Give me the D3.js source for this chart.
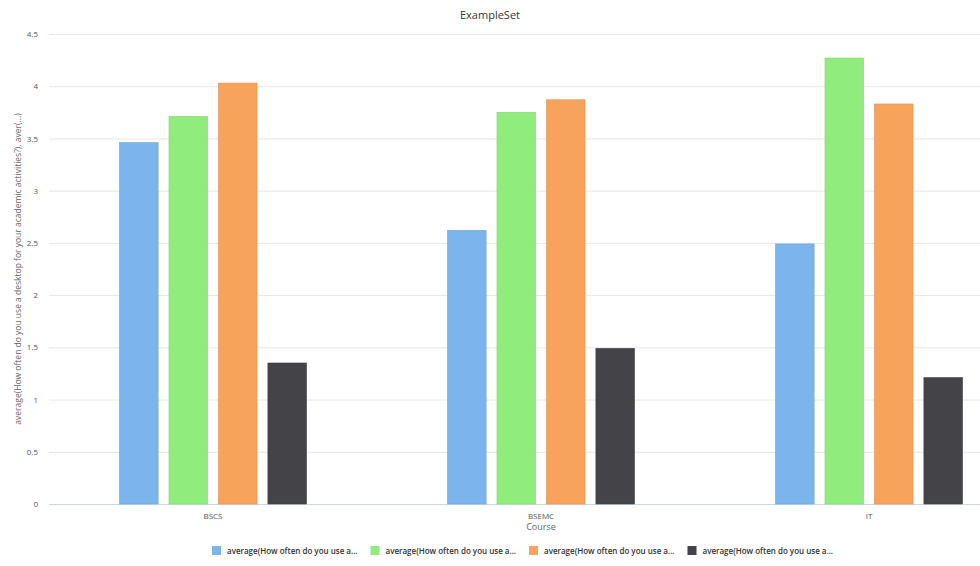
<!DOCTYPE html>
<html>
<head>
<meta charset="utf-8">
<script src="https://cdn.jsdelivr.net/npm/d3@7"></script>
<style>
  body { margin: 0; background: #fff; overflow: hidden; }
  text { font-family: "Open Sans", "DejaVu Sans", sans-serif; }
</style>
</head>
<body>
<div class="chart"></div>
<script>
// Chart data
const courses = ['BSCS', 'BSEMC', 'IT'];
const series_names = [
    'average(How often do you use a...',
    'average(How often do you use a...',
    'average(How often do you use a...',
    'average(How often do you use a...'
];
const series_values = [
    [3.46, 2.62, 2.49],
    [3.71, 3.75, 4.27],
    [4.03, 3.87, 3.83],
    [1.35, 1.49, 1.21]
];
const y_ticks = [0, 0.5, 1, 1.5, 2, 2.5, 3, 3.5, 4, 4.5];
const colors = ['#7cb5ec', '#90ed7d', '#f7a35c', '#434348'];

const width = 980;
const height = 566;
const margin = {top: 34, left: 49, bottom: 62};
const inner_width = 984;   // plot is wider than the window, cut off on the right
const inner_height = height - margin.top - margin.bottom;

const svg = d3.select('.chart').append('svg')
    .attr('width', width)
    .attr('height', height);

const xScale = d3.scaleBand()
    .domain(courses)
    .range([0, inner_width]);
const sScale = d3.scaleBand()
    .domain(d3.range(series_values.length))
    .range([xScale.bandwidth() * 0.215, xScale.bandwidth() * 0.785])
    .paddingInner(0.22);
const yScale = d3.scaleLinear()
    .domain([0, 4.5])
    .range([inner_height, 0]);

const chart = svg.append('g').attr('transform', `translate(${margin.left}, ${margin.top})`);

// Y grid + labels
chart.append('g')
    .call(d3.axisLeft(yScale).tickValues(y_ticks).tickFormat(d => d).tickSize(0))
    .call(g => g.select('.domain').remove())
    .call(g => g.selectAll('.tick > line')
        .attr('x2', inner_width)
        .attr('stroke', '#e6e6e6'))
    .call(g => g.selectAll('.tick > text')
        .attr('x', -11)
        .attr('fill', '#555')
        .style('font-size', '8px'));

// X axis
chart.append('g')
    .attr('transform', `translate(0, ${inner_height})`)
    .call(d3.axisBottom(xScale).tickSize(0).tickPadding(9))
    .call(g => g.select('.domain').attr('stroke', '#ccd6eb'))
    .call(g => g.selectAll('.tick > text')
        .attr('fill', '#555')
        .style('font-size', '8px'));

// Bars
const series = chart.append('g')
    .selectAll('g')
    .data(series_values)
    .join('g')
        .attr('fill', (_, i) => colors[i])
        .attr('stroke', (_, i) => d3.color(colors[i]).darker(0.3))
        .attr('stroke-width', 0.6);

series.selectAll('rect')
    .data((vals, si) => vals.map((v, ci) => ({si, ci, v})))
    .join('rect')
        .attr('x', d => xScale(courses[d.ci]) + sScale(d.si))
        .attr('y', d => yScale(d.v))
        .attr('width', sScale.bandwidth())
        .attr('height', d => yScale(0) - yScale(d.v));

// Titles
svg.append('text')
    .attr('x', width / 2)
    .attr('y', 19)
    .attr('text-anchor', 'middle')
    .attr('fill', '#333')
    .style('font-size', '11px')
    .text('ExampleSet');

svg.append('text')
    .attr('x', margin.left + inner_width / 2)
    .attr('y', 530)
    .attr('text-anchor', 'middle')
    .attr('fill', '#666')
    .style('font-size', '9px')
    .text('Course');

svg.append('text')
    .attr('transform', `translate(21, ${margin.top + inner_height / 2}) rotate(-90)`)
    .attr('text-anchor', 'middle')
    .attr('fill', '#666')
    .style('font-size', '8.5px')
    .text('average(How often do you use a desktop for your academic activities?), aver(...)');

// Legend
const legend = svg.append('g')
    .attr('transform', 'translate(212, 546)');

const item = legend.selectAll('g')
    .data(series_names)
    .join('g')
        .attr('transform', (_, i) => `translate(${i * 158.5}, 0)`);

item.append('rect')
    .attr('width', 9)
    .attr('height', 9)
    .attr('fill', (_, i) => colors[i]);

item.append('text')
    .attr('x', 15)
    .attr('y', 8)
    .attr('fill', '#333')
    .style('font-size', '8px')
    .style('font-weight', '600')
    .text(d => d);
</script>
</body>
</html>
